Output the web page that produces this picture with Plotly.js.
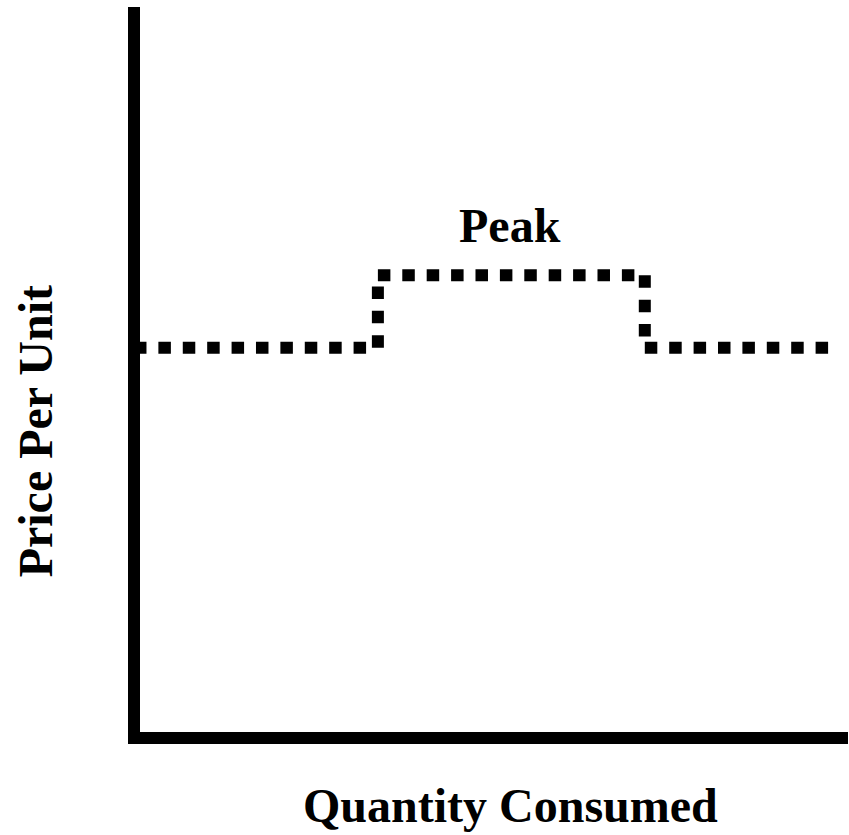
<!DOCTYPE html>
<html>
<head>
<meta charset="utf-8">
<script src="https://cdn.plot.ly/plotly-3.0.1.min.js"></script>
<style>html,body{margin:0;padding:0;background:#fff;}#chart{width:849px;height:835px;}</style>
</head>
<body>
<div id="chart"></div>
<script>
// Quantity (x) and price (y) of the peak-pricing step curve
var quantity = [-0.85, 33.6, 33.6, 71.3, 71.3, 97.2];
var price    = [53,    53,   63,   63,   53,   53];
var peakLabel = "Peak";
var peakX = 52.3, peakY = 69.9;
var xTitle = "Quantity Consumed";
var yTitle = "Price Per Unit";

var font = "Liberation Serif, Times New Roman, serif";
// one trace per segment so each segment starts with a dash, as in the original
var traces = [];
for (var i = 0; i < quantity.length - 1; i++) {
  traces.push({
    x: [quantity[i], quantity[i + 1]], y: [price[i], price[i + 1]],
    mode: "lines", type: "scatter",
    line: {color: "#000", width: 12, dash: "12.5px,11.9px"},
    hoverinfo: "skip", showlegend: false
  });
}
var layout = {
  width: 849, height: 835,
  margin: {l: 140, r: 1, t: 7, b: 103, pad: 0},
  paper_bgcolor: "#fff", plot_bgcolor: "#fff",
  xaxis: {range: [0, 100], showline: true, linewidth: 12, linecolor: "#000",
          showgrid: false, zeroline: false, showticklabels: false, ticks: ""},
  yaxis: {range: [0, 100], showline: true, linewidth: 12, linecolor: "#000",
          showgrid: false, zeroline: false, showticklabels: false, ticks: ""},
  annotations: [
    {x: peakX, y: peakY, xref: "x", yref: "y", text: "<b>" + peakLabel + "</b>", showarrow: false,
     font: {family: font, size: 48, color: "#000"}, xanchor: "center", yanchor: "middle"},
    {x: 0.5226, y: -0.1007, xref: "paper", yref: "paper", text: "<b>" + xTitle + "</b>", showarrow: false,
     font: {family: font, size: 48, color: "#000"}, xanchor: "center", yanchor: "middle"},
    {x: -0.148, y: 0.415, xref: "paper", yref: "paper", text: "<b>" + yTitle + "</b>", showarrow: false,
     textangle: -90, font: {family: font, size: 48, color: "#000"}, xanchor: "center", yanchor: "middle"}
  ]
};
Plotly.newPlot("chart", traces, layout, {staticPlot: true, displayModeBar: false});
</script>
</body>
</html>
